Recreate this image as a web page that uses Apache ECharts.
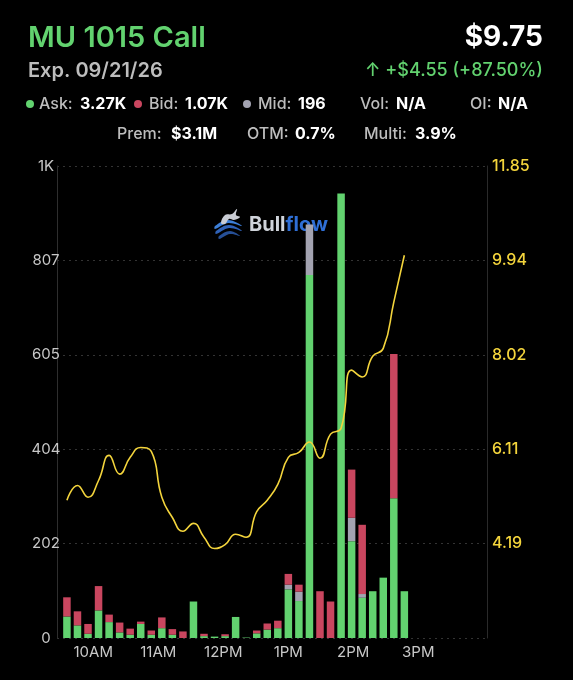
<!DOCTYPE html>
<html>
<head>
<meta charset="utf-8">
<script src="https://cdn.jsdelivr.net/npm/echarts@6/dist/echarts.min.js"></script>
<style>
  html, body { margin: 0; padding: 0; background: #000; }
  #chart { width: 573px; height: 680px; }
</style>
</head>
<body>
<div id="chart"></div>
<script>
// bucket timestamps (session 09:30 - 16:00)
const day = '2026-01-02 '
const times = [
  '09:35:42', '09:45:26', '09:55:10', '10:04:54', '10:14:38', '10:24:22', '10:34:06',
  '10:43:50', '10:53:34', '11:03:18', '11:13:02', '11:22:46', '11:32:30', '11:42:14',
  '11:51:58', '12:01:42', '12:11:26', '12:21:10', '12:30:54', '12:40:38', '12:50:22',
  '13:00:06', '13:09:50', '13:19:34', '13:29:18', '13:39:02', '13:48:46', '13:58:30',
  '14:08:14', '14:17:58', '14:27:42', '14:37:26', '14:47:10'
]
// contracts per bucket
const askVol = [46, 27, 9, 59, 34, 12, 7, 30, 7, 21, 7, 0, 78, 4, 3, 4, 45, 1, 10, 18, 21, 104, 79, 776, 0, 0, 950, 207, 86, 100, 129, 299, 100]
const midVol = [0, 0, 0, 0, 0, 0, 0, 0, 0, 0, 0, 0, 0, 0, 0, 0, 0, 0, 0, 0, 0, 10, 20, 108, 0, 0, 0, 50, 8, 0, 0, 0, 0]
const bidVol = [41, 30, 21, 52, 16, 21, 13, 5, 9, 23, 12, 14, 0, 5, 0, 4, 0, 0, 6, 13, 16, 23, 15, 0, 100, 78, 0, 103, 148, 0, 0, 308, 0]
// option price
const price = [5.07, 5.37, 5.13, 5.47, 5.98, 5.60, 5.94, 6.14, 6.06, 5.13, 4.72, 4.44, 4.60, 4.32, 4.09, 4.17, 4.38,
  4.32, 4.84, 5.07, 5.39, 5.94, 6.04, 6.25, 5.92, 6.41, 6.53, 7.71, 7.57, 7.99, 8.15, 9.09, 10.04]

const volTickLabels = ['0', '202', '404', '605', '807', '1K']
const priceTicks = [4.19, 6.11, 8.02, 9.94, 11.85]

const GREEN = '#62d26f'
const RED = '#c9465f'
const GRAY = '#a3a3b1'
const YELLOW = '#f3d43c'
const FONT = 'Inter, "Noto Sans", sans-serif'

const pair = (arr) => times.map((t, i) => [day + t, arr[i]])

function hourLabel (val) {
  const d = new Date(val)
  const h = d.getHours()
  if (d.getMinutes() !== 0 || h >= 16) return ''
  if (h < 12) return h + 'AM'
  return (h === 12 ? 12 : h - 12) + 'PM'
}

function txt (text, x, y, size, weight, fill, align) {
  return {
    type: 'text',
    x: x,
    y: y,
    style: {
      text: text,
      fill: fill,
      fontSize: size,
      fontWeight: weight,
      fontFamily: FONT,
      align: align || 'left',
      verticalAlign: 'middle'
    }
  }
}
function dot (x, y, color) {
  return { type: 'circle', shape: { cx: x, cy: y, r: 4 }, style: { fill: color } }
}
function blob (points, color) {
  return { type: 'polygon', shape: { points: points, smooth: 0.4 }, style: { fill: color } }
}

const LBL = '#bdbdbd'
const graphic = [
  txt('MU 1015 Call', 28, 38, 29, 600, GREEN),
  txt('$9.75', 543, 38, 28, 700, '#fff', 'right'),
  txt('Exp. 09/21/26', 28, 71, 20, 600, LBL),
  txt('↑ +$4.55 (+87.50%)', 543, 71, 18, 500, GREEN, 'right'),
  // stats row 1
  dot(30, 104, GREEN), txt('Ask:', 39, 104, 16, 500, LBL), txt('3.27K', 80, 104, 16, 700, '#fff'),
  dot(138, 104, RED), txt('Bid:', 149, 104, 16, 500, LBL), txt('1.07K', 185, 104, 16, 700, '#fff'),
  dot(247, 104, GRAY), txt('Mid:', 258, 104, 16, 500, LBL), txt('196', 298, 104, 16, 700, '#fff'),
  txt('Vol:', 360, 104, 16, 500, LBL), txt('N/A', 396, 104, 16, 700, '#fff'),
  txt('OI:', 470, 104, 16, 500, LBL), txt('N/A', 498, 104, 16, 700, '#fff'),
  // stats row 2
  txt('Prem:', 117, 134, 16, 500, LBL), txt('$3.1M', 171, 134, 16, 700, '#fff'),
  txt('OTM:', 247, 134, 16, 500, LBL), txt('0.7%', 295, 134, 16, 700, '#fff'),
  txt('Multi:', 364, 134, 16, 500, LBL), txt('3.9%', 415, 134, 16, 700, '#fff'),
  // watermark
  {
    type: 'group',
    x: 214,
    y: 209,
    z: -10,
    children: [
      blob([[1, 17], [14, 11], [28, 17], [14, 14], [1, 20]], '#3d7fd8'),
      blob([[2, 22], [15, 16], [28, 22], [15, 19], [2, 25]], '#2f62b8'),
      blob([[5, 27], [16, 22], [26, 27], [16, 25], [5, 30]], '#264f96'),
      blob([[7, 14], [11, 6], [18, 5], [23, 0], [22, 6], [26, 8], [20, 11], [15, 10], [11, 15]], '#c9ccd4'),
      {
        type: 'text',
        x: 35,
        y: 16,
        style: {
          text: '{a|Bull}{b|flow}',
          verticalAlign: 'middle',
          rich: {
            a: { fill: '#cfd3da', fontSize: 20, fontWeight: 700, fontFamily: FONT },
            b: { fill: '#2f6fd6', fontSize: 20, fontWeight: 700, fontFamily: FONT }
          }
        }
      }
    ]
  }
]

const chart = echarts.init(document.getElementById('chart'))
chart.setOption({
  backgroundColor: '#000',
  animation: false,
  textStyle: { fontFamily: FONT },
  graphic: graphic,
  grid: { left: 57, right: 86, top: 166, bottom: 42 },
  xAxis: {
    type: 'time',
    min: day + '09:30:00',
    max: day + '16:00:00',
    minInterval: 3600 * 1000,
    maxInterval: 3600 * 1000,
    axisLine: { show: false },
    axisTick: { show: false },
    splitLine: { show: false },
    axisLabel: {
      color: '#c8c8c8',
      fontSize: 15,
      margin: 7,
      showMinLabel: false,
      showMaxLabel: false,
      hideOverlap: false,
      formatter: hourLabel
    }
  },
  yAxis: [
    {
      type: 'value',
      min: 0,
      max: 1009,
      interval: 201.8,
      axisLine: { show: true, lineStyle: { color: '#2e2e2e' } },
      axisTick: { show: false },
      splitLine: { show: true, lineStyle: { color: '#333', type: [2, 4] } },
      axisLabel: {
        color: '#c8c8c8',
        fontSize: 15,
        align: 'center',
        margin: 11,
        formatter: (v, i) => volTickLabels[i]
      }
    },
    {
      type: 'value',
      min: 2.275,
      max: 11.85,
      position: 'right',
      axisLine: { show: true, lineStyle: { color: '#2a2a2a' } },
      axisTick: { show: false },
      splitLine: { show: false },
      axisLabel: {
        color: YELLOW,
        fontSize: 16,
        fontWeight: 500,
        margin: 5,
        customValues: priceTicks,
        formatter: (v) => v.toFixed(2)
      }
    }
  ],
  series: [
    { name: 'Ask', type: 'bar', stack: 'vol', barWidth: 7.5, itemStyle: { color: GREEN }, data: pair(askVol) },
    { name: 'Mid', type: 'bar', stack: 'vol', barWidth: 7.5, itemStyle: { color: GRAY }, data: pair(midVol) },
    { name: 'Bid', type: 'bar', stack: 'vol', barWidth: 7.5, itemStyle: { color: RED }, data: pair(bidVol) },
    {
      name: 'Price',
      type: 'line',
      yAxisIndex: 1,
      smooth: 0.5,
      showSymbol: false,
      z: 5,
      lineStyle: { color: YELLOW, width: 1.6 },
      data: pair(price)
    }
  ]
})
</script>
</body>
</html>
